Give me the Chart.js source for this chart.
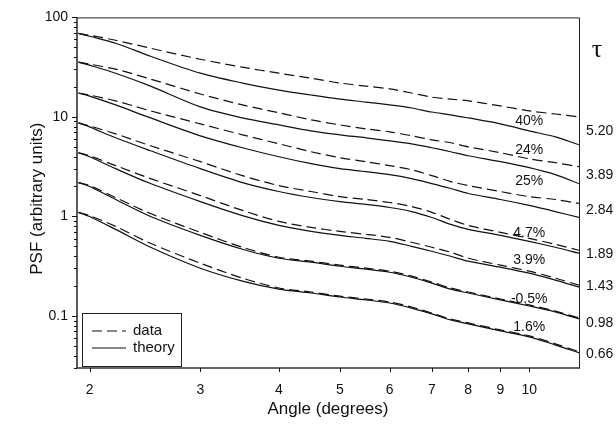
<!DOCTYPE html>
<html>
<head>
<meta charset="utf-8">
<script src="https://cdn.jsdelivr.net/npm/chart.js@4.4.1/dist/chart.umd.min.js"></script>
<style>
  html, body { margin: 0; padding: 0; background: #fff; }
  #wrap { width: 616px; height: 428px; }
</style>
</head>
<body>
<div id="wrap"><canvas id="psf" width="616" height="428"></canvas></div>
<script>
// 角度 (degrees)
const angle = [1.92, 2, 2.2, 2.5, 3, 3.5, 4, 4.5, 5, 5.5, 6, 6.5, 7, 7.5, 8, 9, 10, 11, 12];

// tau = 5.20
const data520   = [69.2, 66.1, 58.9, 49.0, 38.0, 31.6, 27.5, 24.5, 21.9, 20.4, 19.1, 17.4, 15.8, 15.1, 14.5, 12.9, 11.5, 10.7, 10.0];
const theory520 = [69.2, 64.6, 55.0, 40.7, 27.5, 21.9, 18.6, 16.6, 15.1, 14.1, 13.2, 12.3, 11.2, 10.5, 9.77, 8.51, 7.24, 6.31, 5.25];
// tau = 3.89
const data389   = [35.5, 33.9, 30.2, 24.0, 17.0, 13.2, 11.0, 9.33, 8.32, 7.59, 7.08, 6.46, 5.89, 5.50, 5.01, 4.37, 3.80, 3.47, 3.16];
const theory389 = [35.5, 33.1, 27.5, 20.4, 12.6, 9.77, 8.32, 7.24, 6.61, 6.17, 5.75, 5.37, 4.90, 4.47, 4.07, 3.55, 3.09, 2.63, 2.14];
// tau = 2.84
const data284   = [17.4, 16.6, 14.5, 11.5, 8.51, 6.61, 5.37, 4.47, 3.89, 3.55, 3.24, 2.95, 2.57, 2.24, 2.04, 1.78, 1.58, 1.48, 1.35];
const theory284 = [17.4, 16.2, 13.2, 9.77, 6.46, 4.90, 3.98, 3.39, 3.02, 2.82, 2.63, 2.40, 2.14, 1.91, 1.70, 1.48, 1.29, 1.12, 0.977];
// tau = 1.89
const data189   = [8.71, 8.13, 6.76, 5.13, 3.55, 2.57, 2.04, 1.78, 1.58, 1.48, 1.38, 1.26, 1.10, 0.933, 0.813, 0.692, 0.603, 0.525, 0.457];
const theory189 = [8.71, 7.94, 6.17, 4.57, 3.02, 2.19, 1.78, 1.55, 1.41, 1.32, 1.23, 1.12, 0.977, 0.832, 0.741, 0.646, 0.562, 0.490, 0.427];
// tau = 1.43
const data143   = [4.37, 4.07, 3.24, 2.40, 1.62, 1.15, 0.891, 0.776, 0.708, 0.661, 0.617, 0.550, 0.490, 0.437, 0.380, 0.324, 0.282, 0.240, 0.204];
const theory143 = [4.37, 3.98, 3.02, 2.14, 1.41, 1.02, 0.813, 0.708, 0.646, 0.603, 0.562, 0.501, 0.447, 0.398, 0.355, 0.309, 0.269, 0.229, 0.195];
// tau = 0.98
const data098   = [2.19, 2.04, 1.55, 1.07, 0.692, 0.490, 0.389, 0.355, 0.324, 0.302, 0.282, 0.251, 0.219, 0.191, 0.174, 0.148, 0.129, 0.112, 0.0955];
const theory098 = [2.19, 2.00, 1.48, 1.00, 0.646, 0.468, 0.380, 0.347, 0.316, 0.295, 0.275, 0.245, 0.214, 0.186, 0.170, 0.145, 0.126, 0.110, 0.0933];
// tau = 0.66
const data066   = [1.10, 1.02, 0.794, 0.537, 0.339, 0.240, 0.191, 0.174, 0.158, 0.148, 0.138, 0.123, 0.107, 0.0933, 0.0851, 0.0724, 0.0631, 0.0525, 0.0437];
const theory066 = [1.10, 1.00, 0.741, 0.490, 0.302, 0.224, 0.186, 0.170, 0.155, 0.145, 0.135, 0.120, 0.105, 0.0912, 0.0832, 0.0708, 0.0617, 0.0513, 0.0427];

const tauLabels = ['5.20', '3.89', '2.84', '1.89', '1.43', '0.98', '0.66'];
const diffLabels = ['40%', '24%', '25%', '4.7%', '3.9%', '-0.5%', '1.6%'];

// tick values
const xTickValues = [2, 3, 4, 5, 6, 7, 8, 9, 10];
const yTickValues = [0.03, 0.04, 0.05, 0.06, 0.07, 0.08, 0.09,
                     0.1, 0.2, 0.3, 0.4, 0.5, 0.6, 0.7, 0.8, 0.9,
                     1, 2, 3, 4, 5, 6, 7, 8, 9,
                     10, 20, 30, 40, 50, 60, 70, 80, 90, 100];
const yMajor = [0.1, 1, 10, 100];

// where the annotation texts sit (in data units)
const diffLabelY = [9.12, 4.68, 2.24, 0.676, 0.363, 0.148, 0.0776];
const tauLabelY  = [7.24, 2.63, 1.15, 0.417, 0.200, 0.0851, 0.0417];

const FONT = "'Liberation Sans', Arial, Helvetica, sans-serif";
const INK = '#111';

const pairs = [
    [data520, theory520], [data389, theory389], [data284, theory284],
    [data189, theory189], [data143, theory143], [data098, theory098], [data066, theory066]
];

const toPoints = arr => arr.map((v, i) => ({ x: angle[i], y: v }));

const datasets = [];
pairs.forEach(([d, t]) => {
    datasets.push({
        label: 'data', data: toPoints(d),
        borderColor: INK, borderWidth: 1.2, borderDash: [10, 5],
        pointRadius: 0, tension: 0.3, fill: false
    });
    datasets.push({
        label: 'theory', data: toPoints(t),
        borderColor: INK, borderWidth: 1.2,
        pointRadius: 0, tension: 0.3, fill: false
    });
});

// 边框、刻度、标注、图例
const decorations = {
    id: 'decorations',
    afterDraw(chart) {
        const ctx = chart.ctx;
        const area = chart.chartArea;
        const xs = chart.scales.x;
        const ys = chart.scales.y;
        ctx.save();

        // frame
        ctx.strokeStyle = '#222';
        ctx.lineWidth = 1;
        ctx.beginPath();
        ctx.moveTo(area.left, area.top + 0.5);
        ctx.lineTo(area.right + 0.5, area.top + 0.5);
        ctx.lineTo(area.right + 0.5, area.bottom);
        ctx.stroke();
        ctx.lineWidth = 1.6;
        ctx.strokeStyle = '#333';
        ctx.beginPath();
        ctx.moveTo(area.left, area.top);
        ctx.lineTo(area.left, area.bottom);
        ctx.lineTo(area.right + 1, area.bottom);
        ctx.stroke();

        // ticks
        ctx.lineWidth = 1;
        ctx.strokeStyle = INK;
        ctx.beginPath();
        yTickValues.forEach(v => {
            const py = Math.round(ys.getPixelForValue(v)) + 0.5;
            const len = yMajor.includes(v) ? 5 : 3;
            ctx.moveTo(area.left - len, py);
            ctx.lineTo(area.left, py);
        });
        xTickValues.forEach(v => {
            const px = Math.round(xs.getPixelForValue(v)) + 0.5;
            ctx.moveTo(px, area.bottom);
            ctx.lineTo(px, area.bottom + 4);
        });
        ctx.stroke();

        // axis titles
        ctx.fillStyle = INK;
        ctx.font = '17px ' + FONT;
        ctx.textAlign = 'center';
        ctx.textBaseline = 'middle';
        ctx.fillText('Angle (degrees)', (area.left + area.right) / 2, 409);
        ctx.save();
        ctx.translate(37, (area.top + area.bottom) / 2 + 6);
        ctx.rotate(-Math.PI / 2);
        ctx.fillText('PSF (arbitrary units)', 0, 0);
        ctx.restore();

        // difference labels
        ctx.font = '14px ' + FONT;
        diffLabels.forEach((t, i) => {
            ctx.fillText(t, xs.getPixelForValue(10), ys.getPixelForValue(diffLabelY[i]));
        });

        // tau labels
        ctx.textAlign = 'left';
        tauLabels.forEach((t, i) => {
            ctx.fillText(t, area.right + 7, ys.getPixelForValue(tauLabelY[i]));
        });
        ctx.font = "26px 'Liberation Serif', 'DejaVu Serif', serif";
        ctx.textAlign = 'center';
        ctx.fillText('τ', 597, 50);

        // legend
        const lx = 82, ly = 313, lw = 99, lh = 53;
        ctx.fillStyle = '#fff';
        ctx.fillRect(lx, ly, lw, lh);
        ctx.strokeStyle = '#222';
        ctx.lineWidth = 1;
        ctx.strokeRect(lx + 0.5, ly + 0.5, lw, lh);
        ctx.lineWidth = 1.2;
        ctx.strokeStyle = INK;
        ctx.setLineDash([10, 5]);
        ctx.beginPath();
        ctx.moveTo(92, 331); ctx.lineTo(126, 331);
        ctx.stroke();
        ctx.setLineDash([]);
        ctx.beginPath();
        ctx.moveTo(92, 348); ctx.lineTo(126, 348);
        ctx.stroke();
        ctx.fillStyle = INK;
        ctx.font = '15px ' + FONT;
        ctx.textAlign = 'left';
        ctx.fillText('data', 133, 331);
        ctx.fillText('theory', 133, 348);

        ctx.restore();
    }
};

new Chart(document.getElementById('psf'), {
    type: 'line',
    data: { datasets },
    options: {
        responsive: false,
        animation: false,
        devicePixelRatio: 1,
        layout: { padding: { left: 0, right: 37, top: 16, bottom: 0 } },
        plugins: { legend: { display: false }, tooltip: { enabled: false } },
        scales: {
            x: {
                type: 'logarithmic',
                min: 1.91, max: 12,
                afterBuildTicks: s => { s.ticks = xTickValues.map(v => ({ value: v })); },
                afterFit: s => { s.height = 60; },
                grid: { display: false, drawTicks: false },
                border: { display: false },
                ticks: {
                    autoSkip: false, maxRotation: 0, padding: 14,
                    color: INK, font: { family: FONT, size: 14 },
                    callback: v => String(v)
                }
            },
            y: {
                type: 'logarithmic',
                min: 0.03, max: 100,
                afterBuildTicks: s => { s.ticks = yTickValues.map(v => ({ value: v })); },
                afterFit: s => { s.width = 77; },
                grid: { display: false, drawTicks: false },
                border: { display: false },
                ticks: {
                    autoSkip: false, padding: 9,
                    color: INK, font: { family: FONT, size: 14 },
                    callback: v => yMajor.includes(v) ? String(v) : ''
                }
            }
        }
    },
    plugins: [decorations]
});
</script>
</body>
</html>
